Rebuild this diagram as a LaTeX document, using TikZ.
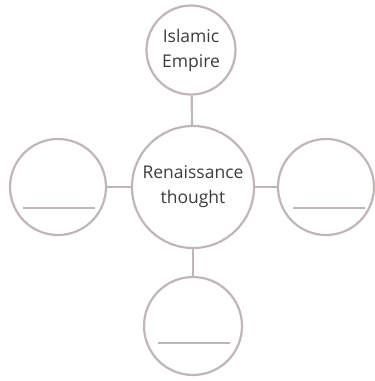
\documentclass[tikz,border=0pt]{standalone}
\usepackage{fontspec}
\setmainfont{Open Sans}
\definecolor{ring}{RGB}{192,182,182}
\definecolor{txt}{RGB}{60,60,60}
\begin{document}
\begin{tikzpicture}[x=1pt,y=-1pt,
  ring/.style={circle,draw=ring,line width=2.2pt,inner sep=0pt,minimum size=#1,text=txt,align=center,font=\fontsize{17.5}{25}\selectfont},
  link/.style={draw=ring,line width=2.2pt},
  blank/.style={draw=ring,line width=1.2pt}]
\useasboundingbox (0,0) rectangle (375,381);
\node[ring=122pt] (c) at (193,187) {Renaissance\\thought};
\node[ring=89pt] (t) at (191,50) {Islamic\\Empire};
\node[ring=96pt] (l) at (58,187) {};
\node[ring=96pt] (r) at (326,187) {};
\node[ring=98pt] (b) at (193,326) {};
\draw[link] (t) -- (c);
\draw[link] (l) -- (c);
\draw[link] (r) -- (c);
\draw[link] (b) -- (c);
\draw[blank] ([shift={(-35,21)}]l.center) coordinate (l1) -- ([shift={(37,21)}]l.center) coordinate (l2);
\draw[blank] ([shift={(-33,21)}]r.center) coordinate (r1) -- ([shift={(39,21)}]r.center) coordinate (r2);
\draw[blank] ([shift={(-35,17)}]b.center) coordinate (b1) -- ([shift={(37,17)}]b.center) coordinate (b2);
\end{tikzpicture}
\end{document}
